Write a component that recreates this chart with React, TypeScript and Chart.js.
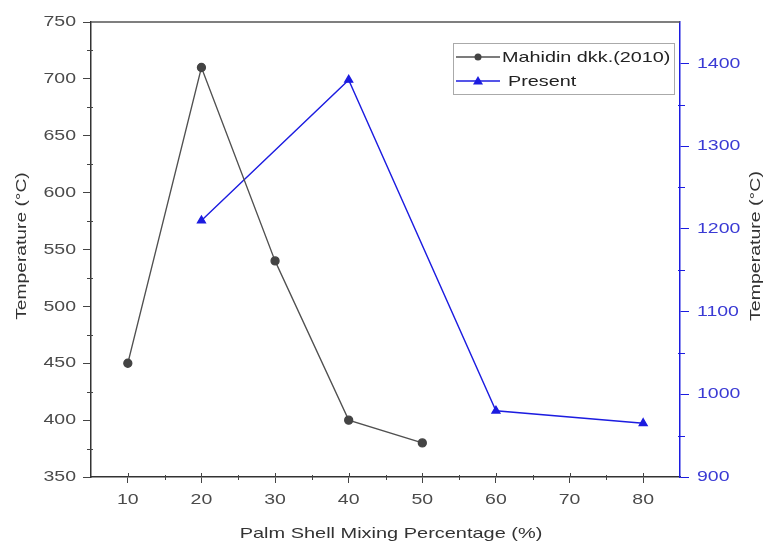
import React, { useEffect, useRef } from "react";
import { Chart, registerables } from "chart.js";

Chart.register(...registerables);

const mahidinX = [10, 20, 30, 40, 50];
const mahidinY = [450, 710, 540, 400, 380];
const presentX = [20, 40, 60, 80];
const presentY = [1210, 1380, 980, 965];
const xTicks = [10, 20, 30, 40, 50, 60, 70, 80];
const xMinorTicks = [15, 25, 35, 45, 55, 65, 75];
const leftTicks = [350, 400, 450, 500, 550, 600, 650, 700, 750];
const leftMinor = [375, 425, 475, 525, 575, 625, 675, 725];
const rightTicks = [900, 1000, 1100, 1200, 1300, 1400];
const rightMinor = [950, 1050, 1150, 1250, 1350];
const seriesNames = ["Mahidin dkk.(2010)", "Present"];
const xTitle = "Palm Shell Mixing Percentage (%)";
const yTitle = "Temperature (°C)";
const y1Title = "Temperature (°C)";

const GRAY = "#505050";
const BLUE = "#1c1ce0";
const FONT = "'Liberation Sans', Arial, sans-serif";
const SX = 1.3;

function txt(ctx: any, s: string, x: number, y: number, align: string, angle: number, sx: number, color: string, size: number) {
  ctx.save();
  ctx.translate(x, y);
  if (angle) ctx.rotate(angle);
  ctx.scale(sx, 1);
  ctx.fillStyle = color;
  ctx.font = `${size}px ${FONT}`;
  ctx.textAlign = align;
  ctx.textBaseline = "middle";
  ctx.fillText(s, 0, 0);
  ctx.restore();
}

const overlay = {
  id: "overlay",
  afterDraw(chart: any) {
    const ctx = chart.ctx;
    const { left, right, top, bottom } = chart.chartArea;
    const xs = chart.scales.x;
    const ys = chart.scales.y;
    const y1 = chart.scales.y1;
    ctx.save();
    // top frame
    ctx.strokeStyle = "#555";
    ctx.lineWidth = 1.5;
    ctx.beginPath();
    ctx.moveTo(left, top);
    ctx.lineTo(right, top);
    ctx.stroke();
    // minor ticks and inner part of x major ticks
    ctx.lineWidth = 1;
    ctx.strokeStyle = "#444";
    ctx.beginPath();
    xMinorTicks.forEach((v) => {
      const px = Math.round(xs.getPixelForValue(v)) + 0.5;
      ctx.moveTo(px, bottom - 2);
      ctx.lineTo(px, bottom + 3);
    });
    xTicks.forEach((v) => {
      const px = Math.round(xs.getPixelForValue(v)) + 0.5;
      ctx.moveTo(px, bottom - 4);
      ctx.lineTo(px, bottom);
    });
    leftMinor.forEach((v) => {
      const py = Math.round(ys.getPixelForValue(v)) + 0.5;
      ctx.moveTo(left + 2, py);
      ctx.lineTo(left - 4, py);
    });
    ctx.stroke();
    ctx.strokeStyle = BLUE;
    ctx.beginPath();
    rightMinor.forEach((v) => {
      const py = Math.round(y1.getPixelForValue(v)) + 0.5;
      ctx.moveTo(right - 2, py);
      ctx.lineTo(right + 5, py);
    });
    ctx.stroke();
    // tick labels
    xTicks.forEach((v) => txt(ctx, String(v), xs.getPixelForValue(v), 500, "center", 0, SX, "#4a4a4a", 15));
    leftTicks.forEach((v) => txt(ctx, String(v), 76, ys.getPixelForValue(v), "right", 0, SX, "#4a4a4a", 15));
    rightTicks.forEach((v) => txt(ctx, String(v), 697, y1.getPixelForValue(v), "left", 0, SX, "#3a3ad4", 15));
    // titles
    txt(ctx, xTitle, 391, 534, "center", 0, 1.33, "#333", 15);
    txt(ctx, yTitle, 22, 246, "center", -Math.PI / 2, 1.28, "#333", 15);
    txt(ctx, y1Title, 756, 246, "center", -Math.PI / 2, 1.3, "#333", 15);
    // legend
    const lx = 453, ly = 43, lw = 221, lh = 51;
    ctx.fillStyle = "#fff";
    ctx.fillRect(lx, ly, lw, lh);
    ctx.strokeStyle = "#aaa";
    ctx.lineWidth = 1;
    ctx.strokeRect(lx + 0.5, ly + 0.5, lw, lh);
    const rows = [
      { y: 57, color: GRAY, marker: "circle", text: seriesNames[0], tx: 502 },
      { y: 81, color: BLUE, marker: "triangle", text: seriesNames[1], tx: 508 },
    ];
    rows.forEach((r) => {
      ctx.strokeStyle = r.color;
      ctx.lineWidth = 1.3;
      ctx.beginPath();
      ctx.moveTo(456, r.y);
      ctx.lineTo(500, r.y);
      ctx.stroke();
      ctx.fillStyle = r.color === GRAY ? "#444" : BLUE;
      ctx.beginPath();
      if (r.marker === "circle") {
        ctx.arc(478, r.y, 3.5, 0, Math.PI * 2);
      } else {
        ctx.moveTo(478, r.y - 5);
        ctx.lineTo(483, r.y + 3.5);
        ctx.lineTo(473, r.y + 3.5);
        ctx.closePath();
      }
      ctx.fill();
      txt(ctx, r.text, r.tx, r.y + 1, "left", 0, 1.32, "#222", 15);
    });
    ctx.restore();
  },
};

export default function App() {
  const ref = useRef<HTMLCanvasElement>(null);
  useEffect(() => {
    document.body.style.margin = "0";
    const canvas = ref.current!;
    const chart = new Chart(canvas, {
      type: "line",
      data: {
        datasets: [
          {
            label: seriesNames[0],
            data: mahidinX.map((x, i) => ({ x, y: mahidinY[i] })),
            yAxisID: "y",
            borderColor: GRAY,
            borderWidth: 1.3,
            backgroundColor: "#444",
            pointBackgroundColor: "#444",
            pointBorderColor: "#444",
            pointRadius: 4,
            pointStyle: "circle",
            tension: 0,
          },
          {
            label: seriesNames[1],
            data: presentX.map((x, i) => ({ x, y: presentY[i] })),
            yAxisID: "y1",
            borderColor: BLUE,
            borderWidth: 1.4,
            backgroundColor: BLUE,
            pointBackgroundColor: BLUE,
            pointBorderColor: BLUE,
            pointRadius: 4.5,
            pointStyle: "triangle",
            tension: 0,
          },
        ],
      },
      options: {
        responsive: false,
        animation: false,
        layout: { padding: { top: 22, left: 0, right: 0, bottom: 0 } },
        plugins: { legend: { display: false }, tooltip: { enabled: false } },
        scales: {
          x: {
            type: "linear",
            min: 5,
            max: 85,
            afterBuildTicks: (s: any) => {
              s.ticks = xTicks.map((v) => ({ value: v }));
            },
            afterFit: (s: any) => {
              s.height = 70;
            },
            grid: { drawOnChartArea: false, drawTicks: true, tickLength: 6, color: "#444" },
            border: { display: true, color: "#333", width: 1.5 },
            ticks: { display: false },
          },
          y: {
            type: "linear",
            position: "left",
            min: 350,
            max: 750,
            afterBuildTicks: (s: any) => {
              s.ticks = leftTicks.map((v) => ({ value: v }));
            },
            afterFit: (s: any) => {
              s.width = 91;
            },
            grid: { drawOnChartArea: false, drawTicks: true, tickLength: 8, color: "#444" },
            border: { display: true, color: "#333", width: 1.5 },
            ticks: { display: false },
          },
          y1: {
            type: "linear",
            position: "right",
            min: 900,
            max: 1450,
            afterBuildTicks: (s: any) => {
              s.ticks = rightTicks.map((v) => ({ value: v }));
            },
            afterFit: (s: any) => {
              s.width = 85;
            },
            grid: { drawOnChartArea: false, drawTicks: true, tickLength: 9, color: BLUE },
            border: { display: true, color: BLUE, width: 1.5 },
            ticks: { display: false },
          },
        },
      },
      plugins: [overlay],
    });
    return () => chart.destroy();
  }, []);
  return <canvas ref={ref} width={765} height={547} style={{ display: "block" }} />;
}
